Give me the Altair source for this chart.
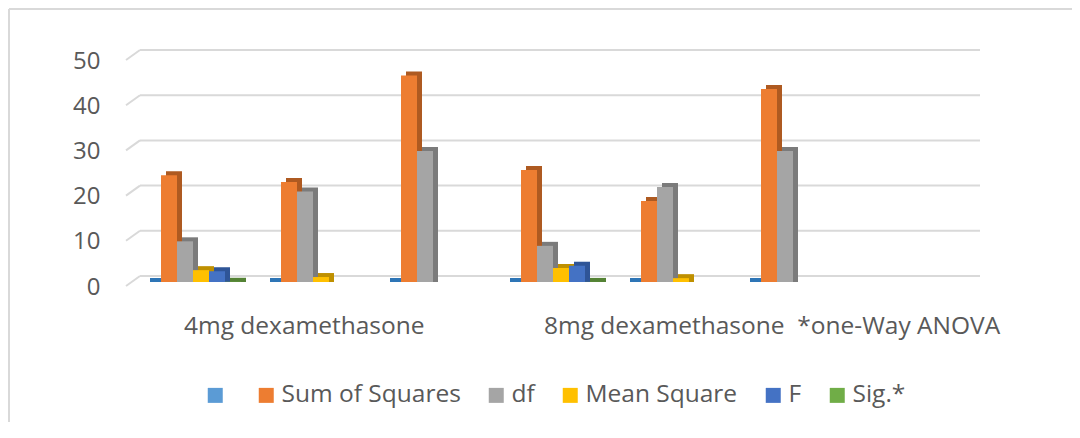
import altair as alt
import pandas as pd

# ---- data ----
categories = ["4mg Between", "4mg Within", "4mg Total",
              "8mg Between", "8mg Within", "8mg Total", "(empty)"]
series = [" ", "Sum of Squares", "df", "Mean Square", "F", "Sig.*"]

blank_vals = [0, 0, 0, 0, 0, 0]
sum_sq = [23.6, 22.1, 45.7, 24.8, 17.9, 42.7]
df_vals = [9, 20, 29, 8, 21, 29]
mean_sq = [2.62, 1.1, None, 3.1, 0.85, None]
f_vals = [2.38, None, None, 3.6, None, None]
sig_vals = [0.05, None, None, 0.02, None, None]

group_labels = ["4mg dexamethasone", "8mg dexamethasone\u00a0\u00a0*one-Way ANOVA"]
group_label_cats = [categories[0], categories[3]]

y_ticks = [0, 10, 20, 30, 40, 50]

colors = ["#5B9BD5", "#ED7D31", "#A5A5A5", "#FFC000", "#4472C4", "#70AD47"]
dark_colors = ["#2E75B6", "#AE5A21", "#7B7B7B", "#BF9000", "#2F5597", "#548235"]

rows = []
for s, vals in zip(series, [blank_vals, sum_sq, df_vals, mean_sq, f_vals, sig_vals]):
    for c, v in zip(categories, vals):
        if v is not None:
            rows.append({"cat": c, "series": s, "value": v})
bars_df = pd.DataFrame(rows)
ticks_df = pd.DataFrame({"t": y_ticks})
labels_df = pd.DataFrame({"cat": group_label_cats, "label": group_labels})

FONT = "Open Sans"
TXT = "#595959"
GRID = "#D9D9D9"

W, H = 840, 226
RIGHT = 99

xscale = alt.Scale(domain=categories, paddingInner=0.2, paddingOuter=0.1)
xscale_shadow = alt.Scale(domain=categories, paddingInner=0.2, paddingOuter=0.1, range=[5, W + 5])
yscale = alt.Scale(domain=[0, 50], nice=False, zero=True)
yaxis = alt.Axis(values=y_ticks, grid=False, domain=False, ticks=False,
                 labelFont=FONT, labelFontSize=24, labelColor=TXT,
                 labelPadding=33, labelOffset=5, title=None)
xoff = alt.XOffset("series:N", scale=alt.Scale(domain=series, paddingInner=0, paddingOuter=0))

base_ticks = alt.Chart(ticks_df)

grid_back = base_ticks.mark_rule(color=GRID, strokeWidth=2, yOffset=-6).encode(
    y=alt.Y("t:Q", scale=yscale, axis=yaxis),
    x=alt.value(7), x2=alt.value(W + 7),
)
grid_slant = base_ticks.mark_rule(color=GRID, strokeWidth=2, yOffset=4, y2Offset=-6).encode(
    y=alt.Y("t:Q", scale=yscale, axis=yaxis),
    y2="t:Q",
    x=alt.value(-7), x2=alt.value(7),
)

border = alt.Chart(pd.DataFrame({"k": [0]})).mark_rule(color=GRID, strokeWidth=2)
border_top = border.encode(x=alt.value(-124), x2=alt.value(W + RIGHT), y=alt.value(-47))
border_left = border.encode(x=alt.value(-124), y=alt.value(-47), y2=alt.value(H + 160))

shadow = alt.Chart(bars_df).mark_bar(yOffset=-4, y2Offset=0).encode(
    x=alt.X("cat:N", scale=xscale_shadow, axis=None),
    xOffset=xoff,
    y=alt.Y("value:Q", scale=yscale, axis=yaxis),
    y2=alt.Y2(datum=0),
    color=alt.Color("series:N", scale=alt.Scale(domain=series, range=dark_colors), legend=None),
)

front = alt.Chart(bars_df).mark_bar().encode(
    x=alt.X("cat:N", scale=xscale, axis=None),
    xOffset=xoff,
    y=alt.Y("value:Q", scale=yscale, axis=yaxis),
    color=alt.Color(
        "series:N",
        scale=alt.Scale(domain=series, range=colors),
        legend=alt.Legend(
            orient="none", legendX=70, legendY=327, direction="horizontal",
            title=None, symbolType="square", symbolSize=225, symbolStrokeWidth=0,
            symbolOpacity=1, labelFont=FONT, labelFontSize=24.5, labelColor=TXT,
            labelOffset=3, columnPadding=23, padding=0, labelLimit=400,
        ),
    ),
)

text = alt.Chart(labels_df).mark_text(
    align="left", baseline="middle", dx=-9, font=FONT, fontSize=24.5, color=TXT
).encode(
    x=alt.X("cat:N", scale=xscale, axis=None),
    y=alt.value(271),
    text="label:N",
)

chart = alt.layer(
    border_top, border_left, grid_back, grid_slant, shadow, front, text
).resolve_scale(color="independent", x="independent").properties(
    width=W, height=H,
    autosize=alt.AutoSizeParams(type="none"),
    padding={"left": 125, "top": 48, "right": RIGHT, "bottom": 140},
    background="white",
).configure_view(stroke=None)

chart.save("out.html", embed_options={"renderer": "svg", "actions": False})
